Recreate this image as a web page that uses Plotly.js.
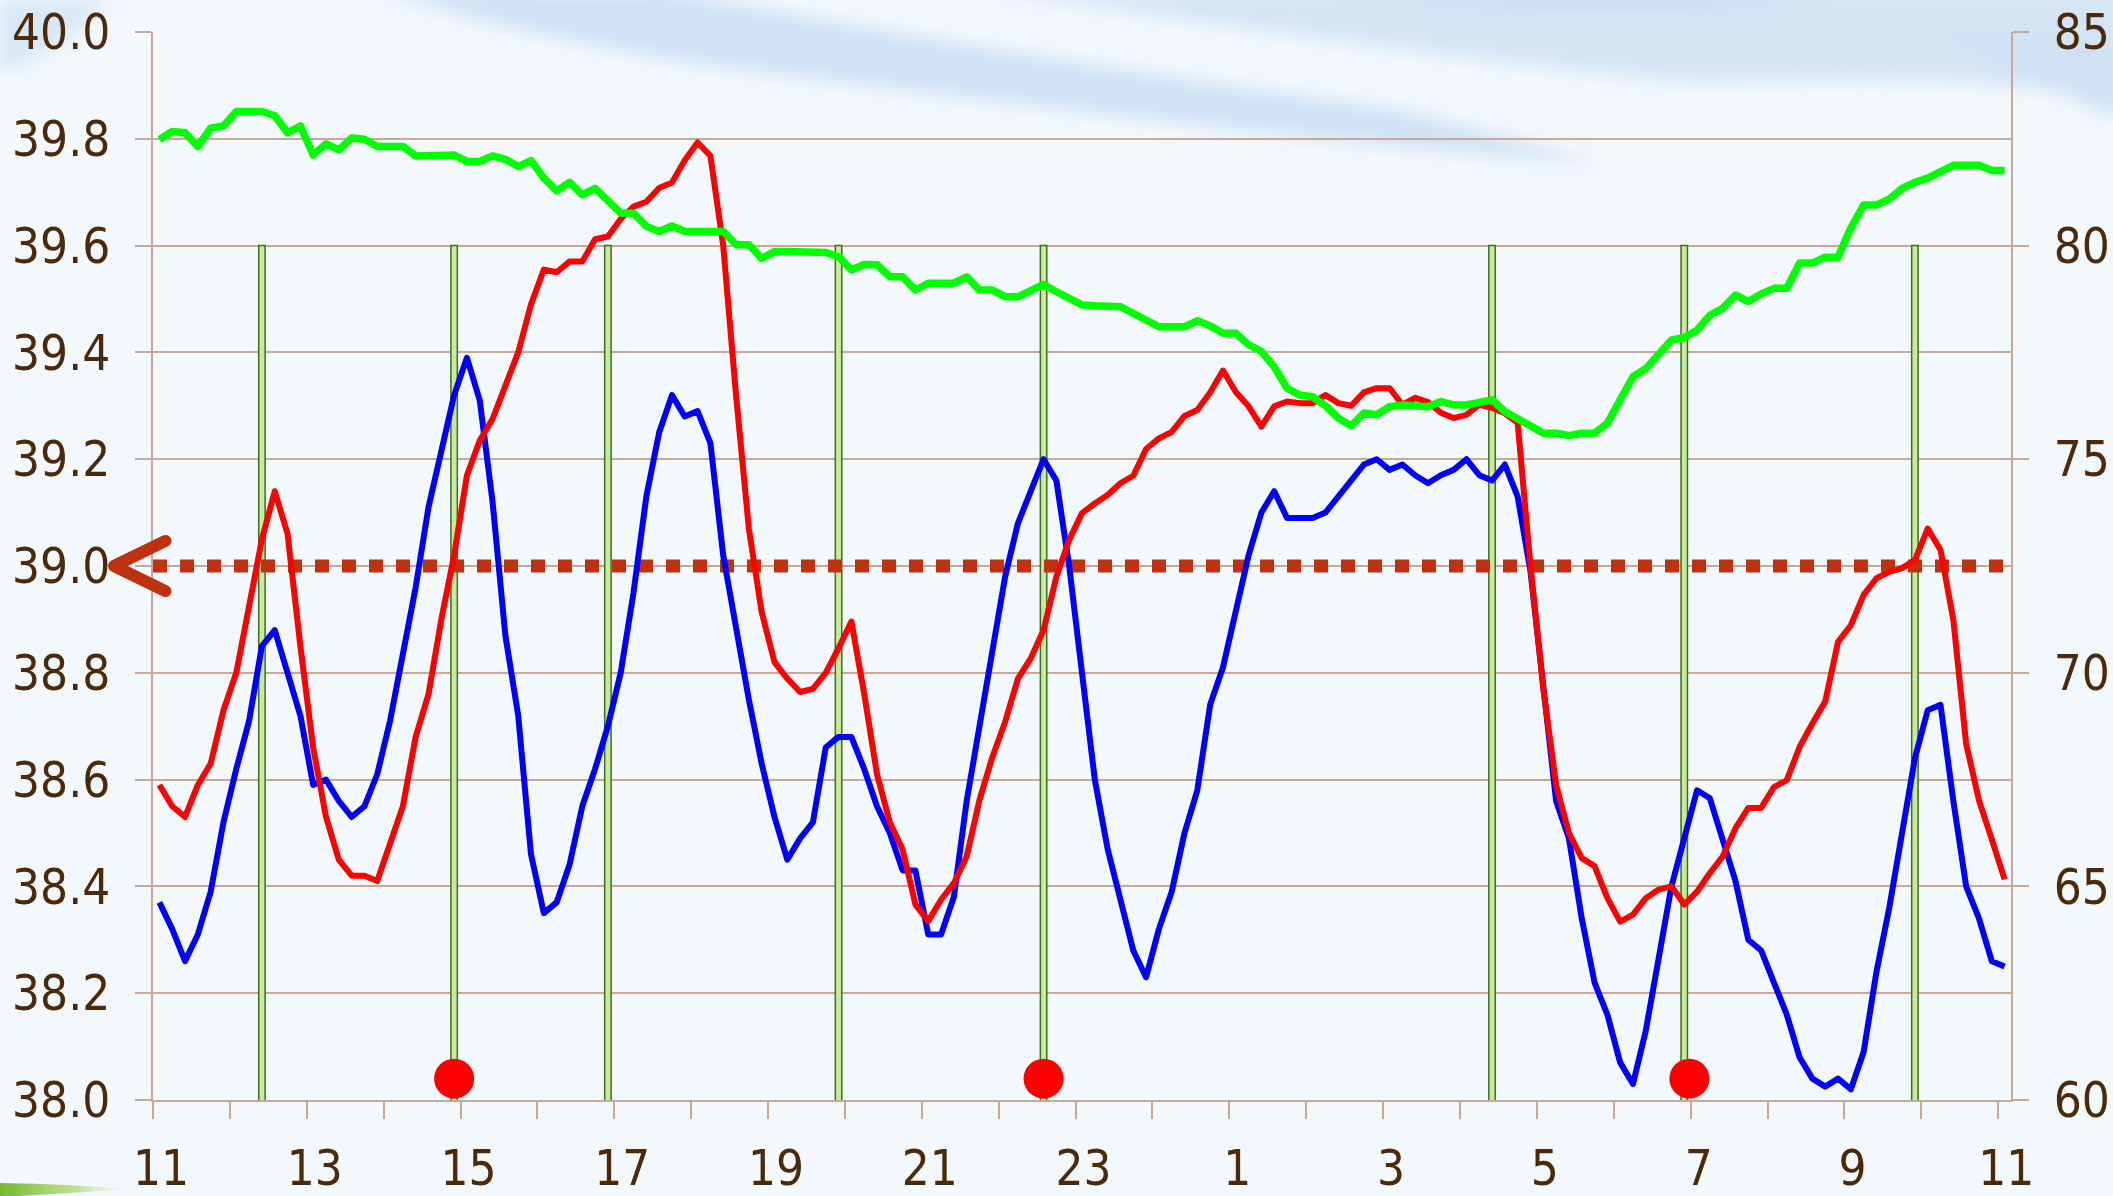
<!DOCTYPE html>
<html>
<head>
<meta charset="utf-8">
<script src="https://cdn.plot.ly/plotly-3.0.1.min.js"></script>
<style>
html,body{margin:0;padding:0;background:#f3f8fc;overflow:hidden;}
#wrap{position:relative;width:2113px;height:1196px;}
#bg{position:absolute;left:0;top:0;}
#chart{position:absolute;left:0;top:0;width:2113px;height:1196px;}
.shapelayer path{stroke-linecap:round;stroke-linejoin:round;}
.scatterlayer .js-line{stroke-linejoin:round;}
</style>
</head>
<body>
<div id="wrap">
<svg id="bg" width="2113" height="1196" xmlns="http://www.w3.org/2000/svg">
  <defs>
    <filter id="blur" x="-20%" y="-50%" width="140%" height="200%"><feGaussianBlur stdDeviation="9"/></filter>
    <linearGradient id="grn" x1="0" y1="0" x2="1" y2="0">
      <stop offset="0" stop-color="#74b72a"/>
      <stop offset="0.6" stop-color="#a9d76a" stop-opacity="0.7"/>
      <stop offset="1" stop-color="#dff0c8" stop-opacity="0"/>
    </linearGradient>
  </defs>
  <rect width="2113" height="1196" fill="#f3f8fc"/>
  <g filter="url(#blur)">
    <path d="M0,0 L110,0 Q70,45 0,75 Z" fill="#d8e7f6"/>
    <path d="M380,-10 L660,-10 Q1000,55 1400,110 L1600,162 Q1400,154 700,64 Q500,32 380,-10 Z" fill="#cfe1f4"/>
    <path d="M980,-10 L2123,-10 L2123,100 Q1950,72 1700,84 Q1450,62 980,-10 Z" fill="#d5e5f6"/>
    <path d="M1300,-10 L1850,-10 Q1650,30 1300,-10 Z" fill="#c6dbf0"/>
    <path d="M1900,20 L2123,40 L2123,120 Q2050,90 1900,20 Z" fill="#cfe1f3"/>
  </g>
  <path d="M0,1183 Q70,1184 130,1189 Q60,1194 0,1197 Z" fill="url(#grn)"/>
</svg>
<div id="chart"></div>
</div>
<script>
// ---- data ----
const hourLabels = ['11','13','15','17','19','21','23','1','3','5','7','9','11'];

const blueTemp = [
38.37,38.32,38.26,38.31,38.39,38.52,38.62,38.71,38.85,38.88,
38.80,38.72,38.59,38.60,38.56,38.53,38.55,38.61,38.71,38.84,
38.96,39.11,39.21,39.32,39.39,39.31,39.12,38.87,38.72,38.46,
38.35,38.37,38.44,38.55,38.62,38.70,38.80,38.95,39.13,39.25,
39.32,39.28,39.29,39.23,39.02,38.88,38.75,38.63,38.53,38.45,
38.49,38.52,38.66,38.68,38.68,38.62,38.55,38.50,38.43,38.43,
38.31,38.31,38.38,38.56,38.70,38.85,38.98,39.08,39.14,39.20,
39.16,39.00,38.80,38.60,38.47,38.38,38.28,38.23,38.32,38.39,
38.50,38.58,38.74,38.81,38.92,39.02,39.10,39.14,39.09,39.09,
39.09,39.10,39.13,39.16,39.19,39.20,39.18,39.19,39.17,39.155,
39.17,39.18,39.20,39.17,39.16,39.19,39.13,38.99,38.78,38.56,
38.49,38.34,38.22,38.16,38.07,38.03,38.13,38.26,38.40,38.49,
38.58,38.565,38.49,38.41,38.30,38.28,38.22,38.16,38.08,38.04,
38.025,38.04,38.02,38.09,38.24,38.36,38.50,38.64,38.73,38.74,
38.56,38.40,38.34,38.26,38.25
];

const redTemp = [
38.59,38.55,38.53,38.59,38.63,38.73,38.80,38.92,39.05,39.14,
39.06,38.85,38.66,38.53,38.45,38.42,38.42,38.41,38.48,38.55,
38.68,38.76,38.90,39.02,39.17,39.235,39.275,39.34,39.40,39.49,
39.555,39.55,39.57,39.57,39.612,39.617,39.65,39.673,39.682,39.708,
39.718,39.76,39.793,39.768,39.60,39.32,39.07,38.914,38.82,38.789,
38.764,38.77,38.80,38.846,38.896,38.761,38.61,38.52,38.469,38.366,
38.335,38.375,38.406,38.456,38.562,38.642,38.708,38.789,38.827,38.88,
38.98,39.049,39.099,39.117,39.133,39.155,39.169,39.219,39.239,39.251,
39.281,39.292,39.325,39.366,39.326,39.299,39.261,39.299,39.308,39.305,
39.305,39.32,39.305,39.30,39.325,39.333,39.333,39.302,39.315,39.307,
39.287,39.277,39.283,39.302,39.296,39.286,39.268,39.00,38.77,38.59,
38.50,38.453,38.438,38.378,38.334,38.347,38.378,38.394,38.40,38.366,
38.39,38.425,38.456,38.509,38.547,38.547,38.586,38.599,38.661,38.705,
38.746,38.858,38.889,38.946,38.977,38.989,38.996,39.011,39.07,39.03,
38.899,38.667,38.561,38.488,38.413
];

const greenHum = [
82.48,82.67,82.64,82.32,82.75,82.80,83.14,83.14,83.14,83.04,
82.64,82.80,82.12,82.38,82.24,82.52,82.49,82.32,82.34,82.32,
82.10,82.10,82.10,82.12,81.97,81.97,82.10,82.02,81.85,81.99,
81.58,81.28,81.48,81.19,81.34,81.07,80.76,80.76,80.45,80.33,
80.46,80.33,80.33,80.33,80.33,80.02,80.02,79.70,79.86,79.86,
79.85,79.85,79.84,79.74,79.43,79.56,79.55,79.27,79.27,78.96,
79.12,79.12,79.12,79.27,78.96,78.96,78.80,78.80,78.94,79.09,
78.92,78.77,78.61,78.59,78.59,78.57,78.41,78.26,78.10,78.10,
78.10,78.24,78.12,77.95,77.95,77.68,77.52,77.16,76.66,76.50,
76.46,76.25,75.96,75.78,76.08,76.04,76.23,76.27,76.23,76.23,
76.35,76.27,76.27,76.33,76.39,76.11,75.96,75.78,75.61,75.61,
75.55,75.61,75.61,75.84,76.39,76.93,77.12,77.48,77.79,77.85,
78.02,78.37,78.53,78.84,78.69,78.87,79.00,79.00,79.59,79.59,
79.73,79.73,80.41,80.95,80.95,81.09,81.34,81.48,81.58,81.73,
81.88,81.88,81.88,81.76,81.76
];

const eventIdx   = [8, 23, 35, 53, 69, 104, 119, 137];
const eventLevel = [39.6, 39.6, 39.6, 39.6, 39.6, 39.6, 39.6, 39.6];
const dotIdx     = [23, 69, 119.4];
const dotLevel   = [38.04, 38.04, 38.04];
const threshold  = [39.0];
const leftRange  = [38, 40];
const rightRange = [60, 85];

// ---- derived ----
const nPts = blueTemp.length;
const xRange = [-0.5, nPts - 0.5];
const tickvals = [], ticktext = [];
for (let k = 0; k <= 2 * (hourLabels.length - 1); k++) {
  tickvals.push(-0.5 + 6 * k);
  ticktext.push(k % 2 === 0 ? hourLabels[k / 2] : '');
}

const gc = '#c7a999';
const txt = '#4a2a0a';
const fontFam = 'DejaVu Sans Condensed, DejaVu Sans, sans-serif';
const thrColor = '#c0310f';

const traces = [
  {type:'bar', x:eventIdx, y:eventLevel, width:0.5, yaxis:'y',
   marker:{color:'#c8eaa0', line:{color:'#3f6e1e', width:1.5}}, hoverinfo:'skip'},
  {type:'scatter', mode:'lines', x:xRange, y:[threshold[0], threshold[0]],
   line:{color:thrColor, width:13, dash:'14px,13px'}, hoverinfo:'skip'},
  {type:'scatter', mode:'lines', y:blueTemp, line:{color:'#0000ff', width:6}},
  {type:'scatter', mode:'lines', y:redTemp, line:{color:'#ff0000', width:6}},
  {type:'scatter', mode:'markers', x:dotIdx, y:dotLevel, marker:{size:40, color:'#ff0000'}},
  {type:'scatter', mode:'lines', y:greenHum, yaxis:'y2', line:{color:'#00ff00', width:7.5}}
];

const layout = {
  width:2113, height:1196,
  margin:{l:153, r:102, t:32, b:96, pad:0},
  paper_bgcolor:'rgba(0,0,0,0)', plot_bgcolor:'rgba(0,0,0,0)',
  showlegend:false,
  font:{family:fontFam, size:49, color:txt},
  xaxis:{range:xRange, tickmode:'array', tickvals:tickvals, ticktext:ticktext,
    ticks:'outside', ticklen:17, tickwidth:2, tickcolor:gc,
    showline:true, linecolor:gc, linewidth:2, showgrid:false, zeroline:false,
    tickfont:{family:fontFam, size:49, color:txt}, ticklabelstandoff:7, ticklabelshift:8},
  yaxis:{range:leftRange, tick0:38, dtick:0.2, tickformat:'.1f',
    ticks:'outside', ticklen:16, tickwidth:2, tickcolor:gc,
    showline:true, linecolor:gc, linewidth:2,
    showgrid:true, gridcolor:gc, gridwidth:2, zeroline:false,
    tickfont:{family:fontFam, size:49, color:txt}, ticklabelstandoff:15},
  yaxis2:{range:rightRange, tick0:60, dtick:5, overlaying:'y', side:'right',
    ticks:'outside', ticklen:16, tickwidth:2, tickcolor:gc,
    showline:true, linecolor:gc, linewidth:2, showgrid:false, zeroline:false,
    tickfont:{family:fontFam, size:49, color:txt}, ticklabelstandoff:15},
  shapes:[{type:'path', xref:'paper', yref:'y', layer:'above',
    path:'M 0.0067,' + (threshold[0] + 0.047) + ' L -0.021,' + threshold[0] + ' L 0.0067,' + (threshold[0] - 0.047),
    line:{color:thrColor, width:12}}]
};

Plotly.newPlot('chart', traces, layout, {staticPlot:true, displayModeBar:false});
</script>
</body>
</html>
